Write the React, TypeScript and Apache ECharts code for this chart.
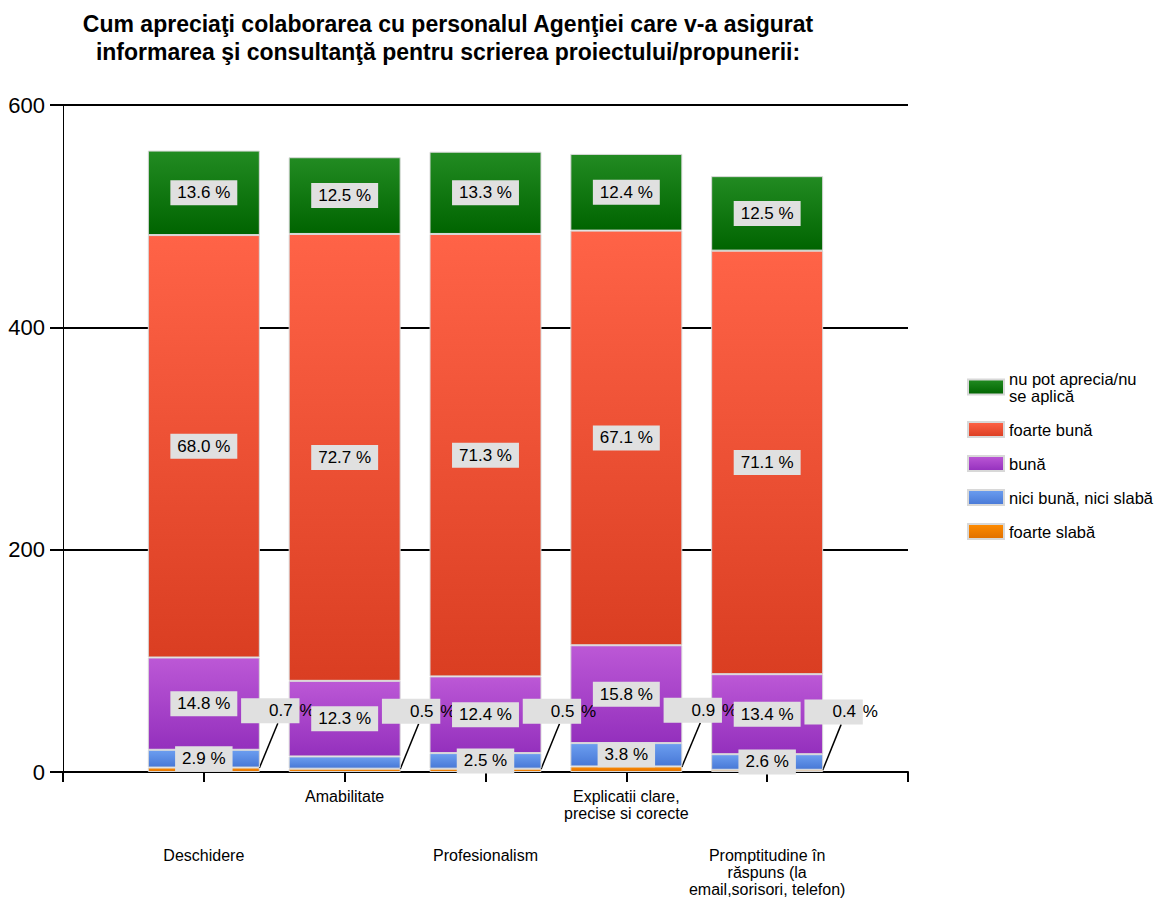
import React, { useEffect, useRef } from 'react';
import * as echarts from 'echarts';

const titleText =
  'Cum apreciaţi colaborarea cu personalul Agenţiei care v-a asigurat\ninformarea şi consultanţă pentru scrierea proiectului/propunerii:';

const categories = [
  'Deschidere',
  'Amabilitate',
  'Profesionalism',
  'Explicatii clare,\nprecise si corecte',
  'Promptitudine în\nrăspuns (la\nemail,sorisori, telefon)',
];

const seriesNames = [
  'foarte slabă',
  'nici bună, nici slabă',
  'bună',
  'foarte bună',
  'nu pot aprecia/nu se aplică',
];

const foarteSlaba = [4, 3, 3, 5, 2];
const niciBunaNiciSlaba = [16, 11, 14, 21, 14];
const buna = [83, 68, 69, 88, 72];
const foarteBuna = [380, 402, 398, 373, 381];
const nuPotAprecia = [76, 69, 74, 69, 67];

const yTicks = [0, 200, 400, 600];

// labels that are not shown in the picture: [seriesIndex, categoryIndex]
const hiddenLabels = [[1, 1]];

const FONT = '"Liberation Sans", Arial, sans-serif';

const gradients = [
  ['#FF8C00', '#E07000'],
  ['#6C9EF0', '#4878D6'],
  ['#BC58D6', '#9430BD'],
  ['#FF6347', '#DA3E22'],
  ['#228B22', '#006400'],
];

export default function App() {
  const ref = useRef<HTMLDivElement>(null);

  useEffect(() => {
    if (!ref.current) return;
    const chart = echarts.init(ref.current, null, { renderer: 'svg' });

    const allValues = [foarteSlaba, niciBunaNiciSlaba, buna, foarteBuna, nuPotAprecia];
    const totals = categories.map((_, j) => allValues.reduce((s, arr) => s + arr[j], 0));
    const pct = (si: number, j: number) => ((allValues[si][j] / totals[j]) * 100).toFixed(1);

    const series = allValues.map((vals, si) => {
      const isCallout = si === 0;
      const data: any[] = [null];
      vals.forEach((v, j) => {
        const hidden = hiddenLabels.some(([a, b]) => a === si && b === j);
        data.push(hidden ? { value: v, label: { show: false } } : v);
      });
      data.push(null);
      const s: any = {
        name: seriesNames[si],
        type: 'bar',
        stack: 'total',
        barWidth: 112,
        data,
        itemStyle: {
          color: new echarts.graphic.LinearGradient(0, 0, 0, 1, [
            { offset: 0, color: gradients[si][0] },
            { offset: 1, color: gradients[si][1] },
          ]),
          borderColor: '#d9d9d9',
          borderWidth: 1,
        },
        label: {
          show: true,
          position: 'inside',
          color: '#000',
          fontFamily: FONT,
          fontSize: 17,
          lineHeight: 17,
          backgroundColor: '#e0e0e0',
          padding: [4, 7, 4, 7],
          formatter: (p: any) => pct(si, p.dataIndex - 1) + ' %',
        },
      };
      if (isCallout) {
        s.label = {
          show: true,
          position: 'inside',
          color: '#000',
          fontFamily: FONT,
          fontSize: 17,
          formatter: (p: any) => '{b|' + pct(si, p.dataIndex - 1) + ' }{p|%}',
          rich: {
            b: {
              backgroundColor: '#e0e0e0',
              padding: [4, 2, 4, 28],
              fontFamily: FONT,
              fontSize: 17,
              lineHeight: 17,
              color: '#000',
            },
            p: { fontFamily: FONT, fontSize: 17, lineHeight: 17, color: '#000', padding: [4, 0, 4, 0] },
          },
        };
        s.labelLayout = { dx: 74, dy: -59 };
        s.labelLine = { show: true, lineStyle: { color: '#000', width: 1.5 } };
      }
      return s;
    });

    chart.setOption({
      animation: false,
      backgroundColor: '#fff',
      title: {
        text: titleText,
        left: 443,
        top: 5,
        textAlign: 'center',
        textStyle: {
          fontFamily: FONT,
          fontSize: 23,
          fontWeight: 'bold',
          lineHeight: 28,
          color: '#000',
        },
      },
      legend: {
        orient: 'vertical',
        left: 962,
        top: 365,
        itemWidth: 36,
        itemHeight: 15,
        itemGap: 17,
        icon: 'rect',
        data: [...seriesNames].reverse(),
        formatter: (name: string) =>
          name === 'nu pot aprecia/nu se aplică' ? 'nu pot aprecia/nu\nse aplică' : name,
        itemStyle: { borderColor: '#d8d8d8', borderWidth: 2 },
        textStyle: { fontFamily: FONT, fontSize: 16.5, color: '#000', lineHeight: 17 },
      },
      grid: { left: 63, right: 262, top: 105, bottom: 130, containLabel: false },
      xAxis: {
        type: 'category',
        data: ['', ...categories, ''],
        boundaryGap: false,
        axisLine: { lineStyle: { color: '#000', width: 2 } },
        axisTick: { show: true, interval: 0, length: 10, lineStyle: { color: '#000', width: 2 } },
        axisLabel: {
          interval: 0,
          margin: 16,
          color: '#000',
          fontFamily: FONT,
          fontSize: 16,
          lineHeight: 17,
          formatter: (v: string, i: number) => (i % 2 === 1 ? '{sp| }\n' + v : v),
          rich: { sp: { lineHeight: 59, fontSize: 10 } },
        },
      },
      yAxis: {
        type: 'value',
        min: yTicks[0],
        max: yTicks[yTicks.length - 1],
        interval: yTicks[1] - yTicks[0],
        axisLine: { show: true, lineStyle: { color: '#000', width: 1 } },
        axisTick: { show: true, length: 13, lineStyle: { color: '#000', width: 2 } },
        splitLine: { show: true, lineStyle: { color: '#000', width: 2 } },
        axisLabel: { color: '#000', fontFamily: FONT, fontSize: 22, margin: 18 },
      },
      series,
    });

    return () => chart.dispose();
  }, []);

  return (
    <div
      ref={ref}
      style={{ position: 'absolute', left: 0, top: 0, width: 1170, height: 902, background: '#fff' }}
    />
  );
}
